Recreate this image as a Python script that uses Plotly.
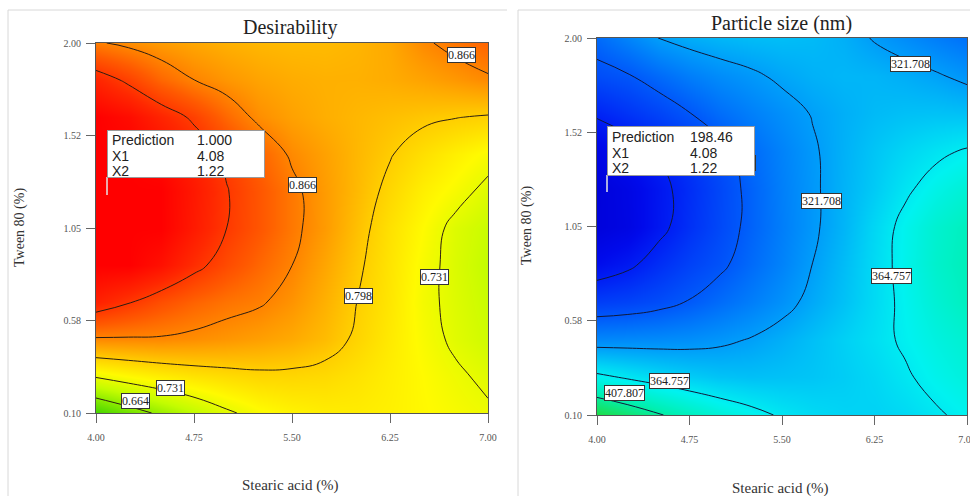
import plotly.graph_objects as go

# ---------------- data ----------------
stearic_acid = [4.0, 4.25, 4.5, 4.75, 5.0, 5.25, 5.5, 5.75, 6.0, 6.25, 6.5, 6.75, 7.0]
tween80 = [0.10, 0.29, 0.48, 0.67, 0.86, 1.05, 1.24, 1.43, 1.62, 1.81, 2.00]

# desirability (rows = tween80, bottom to top; columns = stearic_acid)
desirability = [
    [0.615, 0.645, 0.672, 0.698, 0.725, 0.745, 0.757, 0.764, 0.765, 0.760, 0.752, 0.744, 0.736],
    [0.736, 0.752, 0.765, 0.776, 0.784, 0.790, 0.790, 0.786, 0.776, 0.763, 0.750, 0.737, 0.724],
    [0.862, 0.862, 0.862, 0.857, 0.850, 0.842, 0.832, 0.816, 0.792, 0.768, 0.745, 0.725, 0.710],
    [0.960, 0.936, 0.912, 0.893, 0.879, 0.870, 0.852, 0.826, 0.798, 0.772, 0.741, 0.722, 0.705],
    [1.000, 1.000, 0.980, 0.945, 0.915, 0.890, 0.866, 0.836, 0.805, 0.774, 0.744, 0.720, 0.700],
    [1.000, 1.000, 1.000, 0.968, 0.933, 0.905, 0.875, 0.846, 0.812, 0.778, 0.750, 0.722, 0.705],
    [1.000, 1.000, 1.000, 0.970, 0.935, 0.905, 0.875, 0.845, 0.818, 0.789, 0.762, 0.744, 0.722],
    [1.000, 1.000, 0.985, 0.958, 0.925, 0.893, 0.860, 0.840, 0.820, 0.801, 0.780, 0.762, 0.745],
    [1.000, 0.985, 0.955, 0.926, 0.888, 0.857, 0.840, 0.828, 0.820, 0.813, 0.806, 0.800, 0.795],
    [0.955, 0.925, 0.890, 0.866, 0.850, 0.838, 0.830, 0.826, 0.826, 0.830, 0.838, 0.848, 0.860],
    [0.870, 0.857, 0.845, 0.835, 0.826, 0.820, 0.817, 0.817, 0.822, 0.833, 0.860, 0.877, 0.893],
]

# particle size in nm (rows = tween80, bottom to top; columns = stearic_acid)
particle_size = [
    [440, 425, 410, 396, 383, 372, 362, 355, 351, 350, 354, 362, 370],
    [371, 362, 354, 347, 342, 340, 341, 343, 347, 353, 362, 372, 380],
    [309, 310, 311, 313, 317, 323, 331, 340, 349, 358, 368, 378, 386],
    [259, 263, 270, 280, 291, 302, 314, 328, 341, 355, 370, 384, 395],
    [218, 230, 247, 262, 274, 290, 305, 322, 338, 355, 372, 388, 398],
    [196, 205, 228, 249, 267, 285, 302, 318, 334, 353, 371, 386, 396],
    [195, 207, 227, 247, 266, 285, 303, 318, 333, 346, 361, 374, 384],
    [208, 222, 238, 253, 271, 290, 305, 319, 332, 343, 352, 360, 367],
    [240, 252, 264, 278, 292, 303, 313, 323, 331, 337, 340, 341, 340],
    [270, 277, 290, 302, 311, 318, 326, 332, 335, 334, 330, 324, 316],
    [290, 306, 322, 330, 335, 338, 339, 337, 331, 320, 311, 302, 294],
]

des_levels = dict(start=0.664, end=0.934, size=0.06725)
size_levels = dict(start=235.609, end=407.9, size=43.0495)

x_tickvals = [4.0, 4.75, 5.5, 6.25, 7.0]
x_ticktext = ["4.00", "4.75", "5.50", "6.25", "7.00"]
y_tickvals = [0.1, 0.575, 1.05, 1.525, 2.0]
y_ticktext = ["0.10", "0.58", "1.05", "1.52", "2.00"]

# contour labels (text, x1, x2)
des_labels = [("0.866", 6.80, 1.94), ("0.866", 5.58, 1.27), ("0.798", 6.01, 0.70),
              ("0.731", 6.59, 0.80), ("0.731", 4.57, 0.23), ("0.664", 4.30, 0.16)]
size_labels = [("321.708", 6.54, 1.87), ("321.708", 5.82, 1.18), ("278.658", 5.12, 1.37),
               ("364.757", 6.39, 0.80), ("364.757", 4.59, 0.27), ("407.807", 4.22, 0.21)]

pred_des = [("Prediction", "1.000"), ("X1", "4.08"), ("X2", "1.22")]
pred_size = [("Prediction", "198.46"), ("X1", "4.08"), ("X2", "1.22")]

# ---------------- styling ----------------
W, H = 970, 496
SERIF = "Liberation Serif, Times New Roman, serif"
SANS = "Liberation Sans, Arial, sans-serif"

des_cs = [
    [0.00, "rgb(40,200,0)"],
    [0.05, "rgb(75,215,0)"],
    [0.25, "rgb(195,252,0)"],
    [0.375, "rgb(255,250,0)"],
    [0.50, "rgb(255,205,0)"],
    [0.625, "rgb(255,150,0)"],
    [0.75, "rgb(255,90,0)"],
    [0.875, "rgb(255,40,0)"],
    [1.00, "rgb(255,0,0)"],
]
size_cs = [
    [0.00, "rgb(0,0,215)"],
    [0.10, "rgb(0,10,235)"],
    [0.19, "rgb(0,35,245)"],
    [0.346, "rgb(0,90,250)"],
    [0.50, "rgb(0,155,250)"],
    [0.615, "rgb(0,210,245)"],
    [0.69, "rgb(0,242,240)"],
    [0.81, "rgb(0,240,180)"],
    [0.96, "rgb(30,220,70)"],
    [1.00, "rgb(40,215,50)"],
]


def px(x):
    return x / W


def py(y):
    return 1 - y / H


fig = go.Figure()

fig.add_trace(go.Heatmap(x=stearic_acid, y=tween80, z=desirability, zsmooth="best",
                         colorscale=des_cs, zmin=0.6, zmax=1.0, showscale=False,
                         hoverinfo="skip", xaxis="x", yaxis="y"))
fig.add_trace(go.Contour(x=stearic_acid, y=tween80, z=desirability,
                         contours=dict(coloring="lines", showlabels=False, **des_levels),
                         colorscale=[[0, "#2b1d12"], [1, "#2b1d12"]], line=dict(width=1, smoothing=1.3),
                         showscale=False, hoverinfo="skip", xaxis="x", yaxis="y"))

fig.add_trace(go.Heatmap(x=stearic_acid, y=tween80, z=particle_size, zsmooth="best",
                         colorscale=size_cs, zmin=190, zmax=450, showscale=False,
                         hoverinfo="skip", xaxis="x2", yaxis="y2"))
fig.add_trace(go.Contour(x=stearic_acid, y=tween80, z=particle_size,
                         contours=dict(coloring="lines", showlabels=False, **size_levels),
                         colorscale=[[0, "#10183a"], [1, "#10183a"]], line=dict(width=1, smoothing=1.3),
                         showscale=False, hoverinfo="skip", xaxis="x2", yaxis="y2"))

axis_common = dict(showline=True, mirror=True, linecolor="#555", linewidth=1,
                   ticks="outside", ticklen=9, tickcolor="#666", tickwidth=1,
                   tickfont=dict(family=SERIF, size=10, color="#555"),
                   showgrid=False, zeroline=False, fixedrange=True, automargin=False,
                   ticklabeloverflow="allow")

fig.update_layout(
    template="none",
    width=W, height=H,
    margin=dict(l=0, r=0, t=0, b=0, pad=0, autoexpand=False),
    paper_bgcolor="white", plot_bgcolor="white",
    showlegend=False,
    xaxis=dict(domain=[px(96), px(488)], range=[4, 7], anchor="y",
               tickvals=x_tickvals, ticktext=x_ticktext, ticklabelstandoff=6, **axis_common),
    yaxis=dict(domain=[py(413), py(43)], range=[0.1, 2.0], anchor="x",
               tickvals=y_tickvals, ticktext=y_ticktext, ticklabelstandoff=3, **axis_common),
    xaxis2=dict(domain=[px(597), px(967)], range=[4, 7], anchor="y2",
                tickvals=x_tickvals, ticktext=x_ticktext, ticklabelstandoff=6, **axis_common),
    yaxis2=dict(domain=[py(415), py(38)], range=[0.1, 2.0], anchor="x2",
                tickvals=y_tickvals, ticktext=y_ticktext, ticklabelstandoff=3, **axis_common),
)

shapes = []
# panel frames
frame = dict(type="line", xref="paper", yref="paper", line=dict(color="#d8d8d8", width=1))
shapes.append(dict(frame, x0=px(8), x1=px(507), y0=py(10), y1=py(10)))
shapes.append(dict(frame, x0=px(8), x1=px(8), y0=py(10), y1=py(496)))
shapes.append(dict(frame, x0=px(518), x1=px(970), y0=py(10), y1=py(10)))
shapes.append(dict(frame, x0=px(518), x1=px(518), y0=py(10), y1=py(496)))
# flag poles of prediction markers
pole = dict(type="line", xref="paper", yref="paper", line=dict(color="#e6e6e6", width=1.5))
shapes.append(dict(pole, x0=px(107), x1=px(107), y0=py(177), y1=py(195)))
shapes.append(dict(pole, x0=px(607), x1=px(607), y0=py(175), y1=py(192)))
fig.update_layout(shapes=shapes)

ann = []
centered = dict(xref="paper", yref="paper", xanchor="center", yanchor="middle", showarrow=False)
# titles
ann.append(dict(centered, text="Desirability", x=px(290), y=py(27),
                font=dict(family=SERIF, size=20, color="#222")))
ann.append(dict(centered, text="Particle size (nm)", x=px(781), y=py(23),
                font=dict(family=SERIF, size=20, color="#222")))
# axis titles
for xc, yc in [(290, 485), (780, 488)]:
    ann.append(dict(centered, text="Stearic acid (%)", x=px(xc), y=py(yc),
                    font=dict(family=SERIF, size=15, color="#333")))
for xc, yc in [(20, 228), (527, 226)]:
    ann.append(dict(centered, text="Tween 80 (%)", x=px(xc), y=py(yc), textangle=-90,
                    font=dict(family=SERIF, size=14, color="#333")))

# contour labels
lab_style = dict(showarrow=False, bgcolor="white", bordercolor="#333", borderwidth=1, borderpad=0,
                 xanchor="center", yanchor="middle",
                 font=dict(family=SERIF, size=12, color="#222"))
for t, xv, yv in des_labels:
    ann.append(dict(lab_style, text=t, x=xv, y=yv, xref="x", yref="y"))
for t, xv, yv in size_labels:
    ann.append(dict(lab_style, text=t, x=xv, y=yv, xref="x2", yref="y2"))


# prediction boxes
def pred_box(items, bx0, bx1, by0, by1, vx, rows):
    ann.append(dict(text=" ", x=px(bx0), y=py(by0), xref="paper", yref="paper",
                    xanchor="left", yanchor="top", width=bx1 - bx0 - 2, height=by1 - by0 - 2,
                    showarrow=False, bgcolor="white", bordercolor="#9a9a9a", borderwidth=1, borderpad=0))
    for (lab, val), ry in zip(items, rows):
        ann.append(dict(text=lab, x=px(bx0 + 3), y=py(ry), xref="paper", yref="paper",
                        xanchor="left", yanchor="middle", showarrow=False,
                        font=dict(family=SANS, size=14, color="#222")))
        ann.append(dict(text=val, x=px(vx), y=py(ry), xref="paper", yref="paper",
                        xanchor="left", yanchor="middle", showarrow=False,
                        font=dict(family=SANS, size=14, color="#222")))


pred_box(pred_des, 107, 265, 130, 178, 195, [140, 156, 171])
pred_box(pred_size, 607, 755, 126, 176, 688, [137, 153, 168])

fig.update_layout(annotations=ann)

fig.write_html("out.html", config={"displayModeBar": False},
               post_script="document.body.style.margin='0';document.body.style.overflow='hidden';")
